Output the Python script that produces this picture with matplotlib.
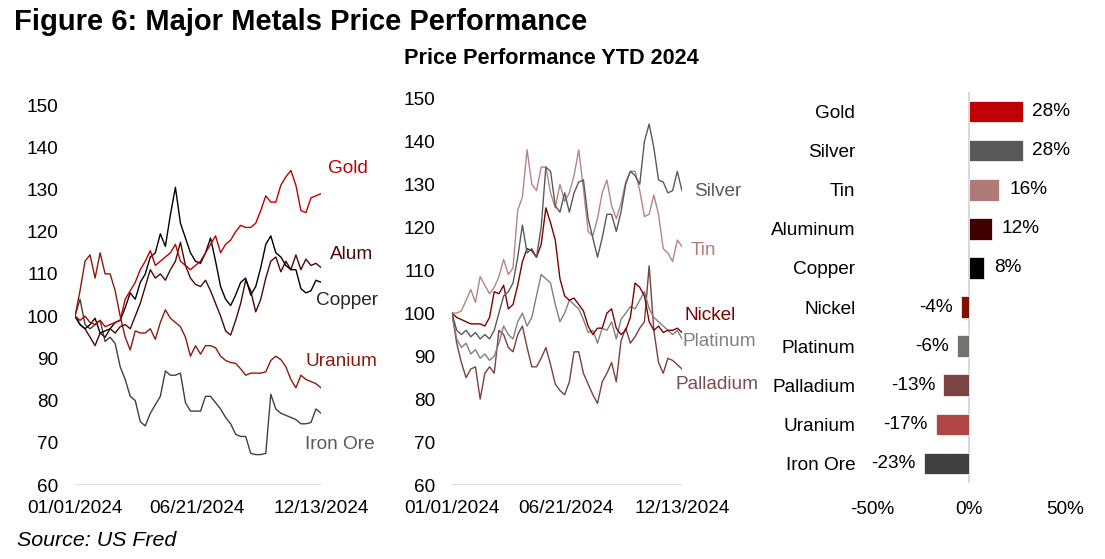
import numpy as np
import pandas as pd
import matplotlib
matplotlib.use('Agg')
import matplotlib.pyplot as plt

plt.rcParams['font.family'] = ['Liberation Sans', 'DejaVu Sans']

# weekly-ish sample dates, 01/01/2024 to 12/13/2024
dates = pd.date_range('2024-01-01', '2024-12-13', periods=50)

# left panel (index, 01/01/2024 = 100)
gold = [100, 99, 100, 98.5, 98, 99, 97.5, 98, 98.5, 99,
        104, 106, 108, 111, 113, 115.5, 112, 113, 114, 115,
        117, 113, 112, 111, 112, 113, 115, 117, 119, 115,
        117, 118, 120, 121.5, 121, 121, 122, 125, 128.5, 127,
        127, 131, 133, 134.5, 131, 125, 124.5, 128, 128.5, 129]
alum = [100, 98, 97, 95, 93, 96, 95, 97, 96, 97.5,
        98, 97, 100, 103, 107, 111, 109, 110, 108.5, 111,
        113, 117.5, 112, 109, 107.5, 107, 108.5, 106, 103, 100,
        96.5, 95.5, 99, 103, 108.5, 106, 101, 104, 109, 113,
        114, 110.5, 113, 111, 114.5, 111, 113.5, 112, 112.5, 111.5]
copper = [100, 98, 97, 98, 99.5, 96, 96.5, 97, 98.5, 99,
          102, 105.5, 104, 108, 110, 114, 115, 119.5, 116.5, 124,
          130.5, 122, 118.5, 115, 113, 112.5, 115, 118.5, 113, 107,
          104, 102.5, 105, 108, 109, 105, 107, 111.5, 117, 119,
          115, 114, 112, 111, 111, 106.5, 105.5, 106, 108.5, 108]
uranium = [100, 106, 113, 114.5, 109, 115, 110, 110, 106, 100,
           95, 92, 96.5, 96, 96, 97, 94.5, 98.5, 101.5, 99.5,
           98.5, 97.5, 95, 90.5, 93, 91, 93, 93, 92.5, 90.5,
           89.5, 89, 88.8, 87.5, 86, 86.5, 86.5, 86.5, 86.8, 89.5,
           90.5, 89.7, 88, 85, 83, 86, 85, 84.5, 84, 83]
iron_ore = [100, 104, 98, 97, 98, 99, 94, 95, 93.5, 88,
            85, 81, 80, 75, 74, 77, 79, 81, 87, 86,
            86, 86.5, 79.5, 77.5, 77.5, 77.5, 81, 81, 79.5, 78,
            76, 74.5, 72, 71.5, 71.5, 67.5, 67.2, 67.2, 67.5, 81.5,
            78, 77, 76.5, 76, 75.5, 74.5, 74.5, 74.8, 78, 77]

# middle panel
silver = [100, 96, 95, 96, 94.5, 95.5, 94, 95, 94, 96,
          100, 104, 105, 107, 113, 120.5, 114, 115, 113, 120,
          134, 133, 125, 123.5, 128, 123.5, 128, 130.5, 131, 122,
          117.5, 113, 117.5, 123, 123, 119, 123.5, 130, 133, 132,
          130, 140, 144, 138.5, 131, 130.5, 128, 128.5, 133, 128.5]
tin = [100, 100, 100.5, 103, 105.5, 102.5, 108.5, 106.5, 104.5, 106,
       108.5, 112.5, 109, 110.5, 124, 127, 138, 130, 128.5, 134,
       134, 128, 124.5, 130, 126, 128, 132, 138, 129, 119,
       118, 122, 128, 131, 125, 122, 125.5, 130.5, 133, 133,
       128.5, 122.5, 123, 127.5, 123, 115, 114, 112, 117, 115.5]
nickel = [100, 99, 98.5, 98, 97.5, 97.5, 97.5, 97, 99, 105,
          104.5, 106.5, 101, 102, 106.5, 112, 115, 114.5, 113, 116,
          124.5, 121, 117, 108, 104, 103, 103.5, 102, 100.5, 97,
          95, 96.5, 96.5, 100, 101, 96.5, 95, 96, 99, 107,
          106, 104, 98, 96, 97, 95.5, 96, 96, 96.5, 95.5]
platinum = [100, 94, 92, 93, 90.5, 91.5, 89.5, 90.5, 89, 90,
            93, 97, 95, 94, 98, 100, 97, 99, 104, 109,
            108, 107, 102, 98, 100, 103, 102, 101, 98.5, 95.5,
            96, 93, 96.5, 96, 98, 94, 98.5, 100, 101.5, 101,
            103, 105, 101, 99, 98, 97, 96, 95, 96, 94]
palladium = [100, 93, 88.5, 85, 87, 87.5, 80, 86, 87.5, 86,
             96, 95, 92, 91, 95, 97, 92, 87.5, 87.5, 89.5,
             92, 88, 83.5, 82, 81, 84, 91, 91, 86, 83.5,
             81, 79, 84, 86, 88.5, 84, 93.5, 96.5, 93, 94.5,
             96.5, 98, 111, 96, 88.5, 86, 89.5, 89, 88, 87]

# right panel
metals = ['Gold', 'Silver', 'Tin', 'Aluminum', 'Copper',
          'Nickel', 'Platinum', 'Palladium', 'Uranium', 'Iron Ore']
ytd = [28, 28, 16, 12, 8, -4, -6, -13, -17, -23]
bar_colors = ['#C00000', '#595959', '#AE7B78', '#400000', '#000000',
              '#7F0F00', '#767171', '#7B4343', '#B04545', '#404040']

W, H = 1105, 559
fig = plt.figure(figsize=(W / 100, H / 100), dpi=100)

FS = 13.7
grid_c = '#D9D9D9'


def style_line_ax(ax):
    for s in ax.spines.values():
        s.set_visible(False)
    ax.set_ylim(60, 150)
    ax.set_yticks(range(60, 151, 10))
    ax.set_xlim(dates[0], dates[-1])
    ax.set_xticks([pd.Timestamp('2024-01-01'), pd.Timestamp('2024-06-21'),
                   pd.Timestamp('2024-12-13')])
    ax.set_xticklabels(['01/01/2024', '06/21/2024', '12/13/2024'])
    ax.tick_params(axis='y', length=0, pad=12, labelsize=FS)
    ax.tick_params(axis='x', length=0, pad=11, labelsize=FS)
    ax.axhline(60, color=grid_c, lw=1.3, zorder=0)
    ax.patch.set_visible(False)


# left line chart
ax1 = fig.add_axes([75 / W, 1 - 485 / H, 246 / W, 380 / H])
style_line_ax(ax1)
left = [(iron_ore, '#404040'), (uranium, '#8B1A0A'), (alum, '#4A0808'),
        (copper, '#000000'), (gold, '#C00000')]
for vals, c in left:
    ax1.plot(dates, vals, color=c, lw=1.0)
lt = ax1.get_yaxis_transform()
ax1.text(1.028, 135, 'Gold', color='#C00000', fontsize=FS, va='center', transform=lt)
ax1.text(1.037, 114.6, 'Alum', color='#4A0808', fontsize=FS, va='center', transform=lt)
ax1.text(0.98, 103.6, 'Copper', color='#262626', fontsize=FS, va='center', transform=lt)
ax1.text(0.935, 89.3, 'Uranium', color='#8B1A0A', fontsize=FS, va='center', transform=lt)
ax1.text(0.935, 69.6, 'Iron Ore', color='#595959', fontsize=FS, va='center', transform=lt)

# middle line chart
ax2 = fig.add_axes([452 / W, 1 - 485 / H, 230 / W, (485 - 98.3) / H])
style_line_ax(ax2)
mid = [(palladium, '#7B3F3F'), (platinum, '#808080'), (nickel, '#800000'),
       (tin, '#B58583'), (silver, '#595959')]
for vals, c in mid:
    ax2.plot(dates, vals, color=c, lw=1.0)
mt = ax2.get_yaxis_transform()
ax2.text(1.052, 128.4, 'Silver', color='#595959', fontsize=FS, va='center', transform=mt)
ax2.text(1.038, 114.5, 'Tin', color='#B07C7C', fontsize=FS, va='center', transform=mt)
ax2.text(1.013, 99.4, 'Nickel', color='#800000', fontsize=FS, va='center', transform=mt)
ax2.text(1.003, 93.3, 'Platinum', color='#808080', fontsize=FS, va='center', transform=mt)
ax2.text(0.97, 83.5, 'Palladium', color='#7F4A4A', fontsize=FS, va='center', transform=mt)

# right bar chart
ax3 = fig.add_axes([872 / W, 1 - 483 / H, 193 / W, 391 / H])
for s in ax3.spines.values():
    s.set_visible(False)
ypos = np.arange(len(metals))
ax3.barh(ypos, ytd, height=0.55, color=bar_colors, edgecolor='white', lw=0.5, zorder=2)
ax3.axvline(0, color=grid_c, lw=1.5, zorder=1)
ax3.set_xlim(-50, 50)
ax3.set_ylim(len(metals) - 0.5, -0.5)
ax3.set_yticks(ypos)
ax3.set_yticklabels(metals)
ax3.set_xticks([-50, 0, 50])
ax3.set_xticklabels(['-50%', '0%', '50%'])
ax3.tick_params(axis='y', length=0, pad=12, labelsize=FS)
ax3.tick_params(axis='x', length=0, pad=13, labelsize=FS)
ax3.patch.set_visible(False)
for y, v in zip(ypos, ytd):
    if v >= 0:
        ax3.annotate(f'{v}%', (v, y), xytext=(7, 0), textcoords='offset points',
                     ha='left', va='center', fontsize=FS)
    else:
        ax3.annotate(f'{v}%', (v, y), xytext=(-6, 0), textcoords='offset points',
                     ha='right', va='center', fontsize=FS)

fig.text(14 / W, 1 - 22 / H, 'Figure 6: Major Metals Price Performance',
         fontsize=21, fontweight='bold', va='center', ha='left')
fig.text(551 / W, 1 - 58 / H, 'Price Performance YTD 2024',
         fontsize=15.6, fontweight='bold', va='center', ha='center')
fig.text(17 / W, 1 - 541 / H, 'Source: US Fred', fontsize=15.4,
         style='italic', va='center', ha='left')

fig.savefig('out.png', dpi=100)
